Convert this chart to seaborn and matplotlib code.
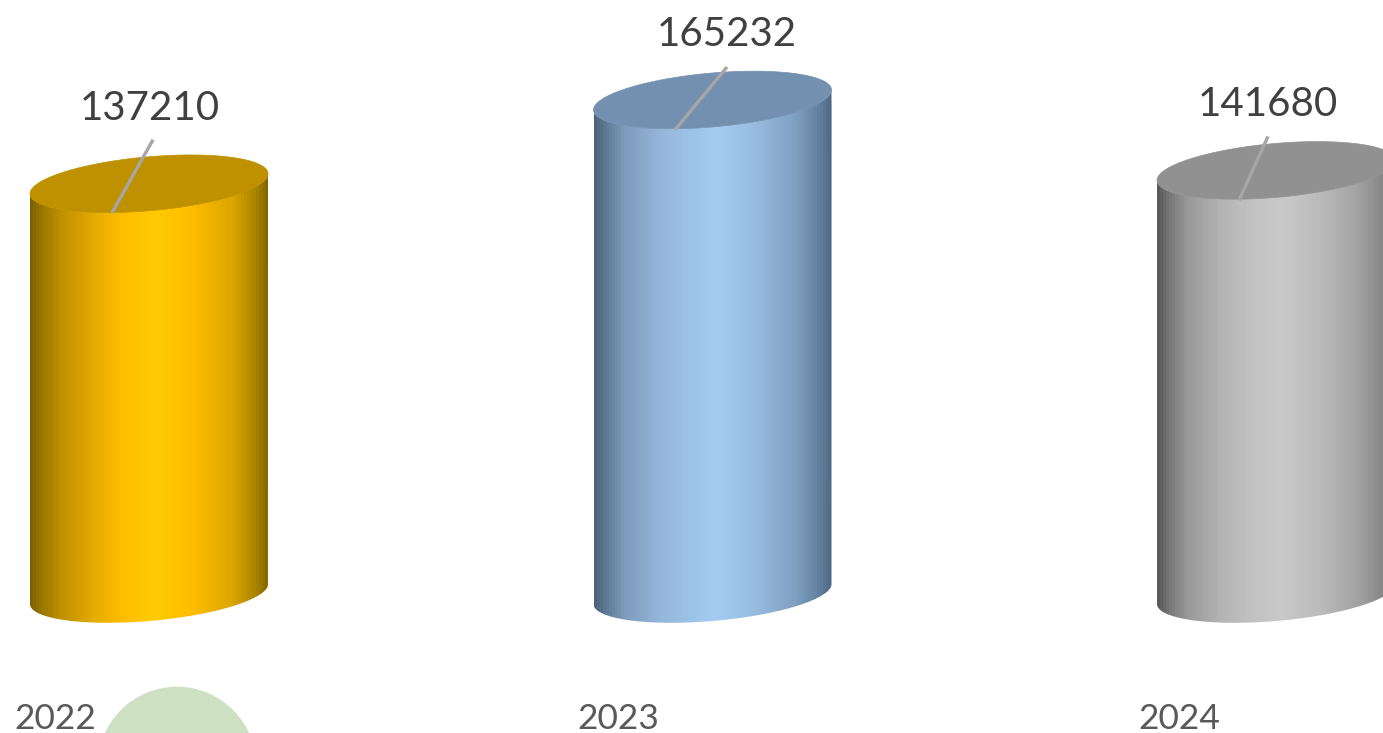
import numpy as np
import pandas as pd
import seaborn as sns
import matplotlib.pyplot as plt
from matplotlib.colors import to_rgb
from matplotlib.patches import Ellipse, PathPatch
from matplotlib.path import Path
from matplotlib.transforms import IdentityTransform, ScaledTranslation

# Values
years = ['2022', '2023', '2024']
totals = [137210, 165232, 141680]

# Look of each cylinder: cap colour and the shading across the body
cap_colors = ['#BF9000', '#7390B1', '#919191']
stop_pos = [0, 0.05, 0.13, 0.27, 0.38, 0.52, 0.68, 0.85, 0.95, 1]
body_stops = [
    ['#7A5F00', '#9A7800', '#C09000', '#E5AB00', '#FFBC00', '#FFCB00', '#FFBC00', '#DCA600', '#A98400', '#806400'],
    ['#4A6077', '#5E7A96', '#7F9CBC', '#93B5D9', '#9CC1E6', '#A6CBF2', '#97BCE0', '#7F9FC0', '#617F9E', '#4F6880'],
    ['#555555', '#777777', '#999999', '#B4B4B4', '#C0C0C0', '#C9C9C9', '#BCBCBC', '#A2A2A2', '#868686', '#6A6A6A'],
]
# leader line ends and label, pixels from the centre of the cap (dx, dy up)
leader_low = [(-37, -29), (-37.5, -30), (-37, -30)]
leader_high = [(4, 44), (14.5, 33), (-8, 34)]
label_pos = [(1, 75), (14.5, 65), (-8, 66)]
year_shift = [-135, -135.5, -137.5]

PX_PER_UNIT = 0.00299
TILT = 10 / PX_PER_UNIT     # rise of the ellipse at its right end
MINOR = 27 / PX_PER_UNIT    # half height of the ellipse
BANDS = 80

W, H = 1383, 733
AXIS_PX = 690
BASE_PX = 594

df = pd.DataFrame({'year': years, 'total': totals})

sns.set_theme(style='white')
plt.rcParams['font.family'] = ['Lato', 'DejaVu Sans']

fig = plt.figure(figsize=(W / 100, H / 100), dpi=100)
ax = fig.add_axes([0, (H - AXIS_PX) / H, 1, AXIS_PX / H])
ax.patch.set_alpha(0)

sns.barplot(data=df, x='year', y='total', hue='year', palette=[s[5] for s in body_stops],
            width=238 / 563.5, legend=False, ax=ax)

xmin, xmax = -149 / 563.5, (W - 149) / 563.5
ymin, ymax = -(AXIS_PX - BASE_PX) / PX_PER_UNIT, BASE_PX / PX_PER_UNIT
ax.set_xlim(xmin, xmax)
ax.set_ylim(ymin, ymax)


def ellipse_xy(cx, half_w, cy, t):
    return cx + half_w * np.cos(t), cy + TILT * np.cos(t) + MINOR * np.sin(t)


t_front = np.linspace(np.pi, 2 * np.pi, 80)
t_all = np.linspace(0, 2 * np.pi, 160)

for i, bar in enumerate(ax.patches[:3]):
    cx = bar.get_x() + bar.get_width() / 2
    half_w = bar.get_width() / 2
    top = bar.get_height()

    # body outline: front of top ellipse, then front of bottom ellipse reversed
    xt, yt = ellipse_xy(cx, half_w, top, t_front)
    xb, yb = ellipse_xy(cx, half_w, 0, t_front[::-1])
    outline = Path(np.column_stack([np.r_[xt, xb, xt[0]], np.r_[yt, yb, yt[0]]]))
    body = PathPatch(outline, facecolor='none', edgecolor='none', transform=ax.transData)
    ax.add_patch(body)
    bar.set_clip_path(body)

    rgb = np.array([to_rgb(c) for c in body_stops[i]])
    steps = (np.arange(BANDS) + 0.5) / BANDS
    bands = np.stack([np.interp(steps, stop_pos, rgb[:, k]) for k in range(3)], axis=-1)[None, :, :]
    img = ax.imshow(bands, extent=[cx - half_w, cx + half_w, -2 * MINOR, top + 2 * TILT + MINOR],
                    aspect='auto', interpolation='nearest', zorder=2)
    img.set_clip_path(body)

    xc, yc = ellipse_xy(cx, half_w, top, t_all)
    ax.fill(xc, yc, color=cap_colors[i], lw=0.5, zorder=3)

    # leader line and value label
    to_data = lambda p: (cx + p[0] / 563.5, top + p[1] / PX_PER_UNIT)
    lx, ly = zip(to_data(leader_low[i]), to_data(leader_high[i]))
    ax.plot(lx, ly, color='#A6A6A6', lw=2.4, solid_capstyle='butt', zorder=4)
    tx, ty = to_data(label_pos[i])
    ax.text(tx, ty, str(totals[i]), ha='center', va='center', fontsize=29, color='#404040', zorder=5)

ax.set_xlim(xmin, xmax)
ax.set_ylim(ymin, ymax)

# axis: no lines, year labels sit at the left of each cylinder
ax.set(xlabel=None, ylabel=None, yticks=[])
ax.set_xticks(range(len(years)), years)
ax.tick_params(axis='x', length=0, pad=9.5, labelsize=25.5, labelcolor='#595959')
for lab, dx in zip(ax.get_xticklabels(), year_shift):
    lab.set_ha('left')
    lab.set_transform(lab.get_transform() + ScaledTranslation(dx / 100, 0, fig.dpi_scale_trans))
sns.despine(ax=ax, left=True, bottom=True)

# pale green disc running off the bottom edge
fig.add_artist(Ellipse((177, H - 766), 158.6, 158.6, transform=IdentityTransform(),
                       facecolor='#CDE1C2', edgecolor='none'))

fig.savefig('out.png', dpi=100)
